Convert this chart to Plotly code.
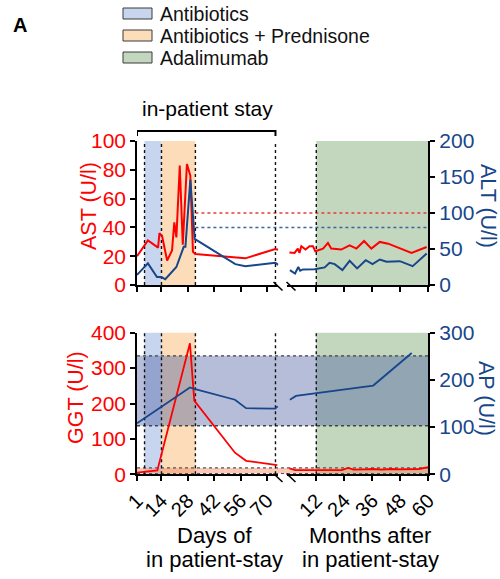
import plotly.graph_objects as go

# ---------------- data ----------------
# Top panel: AST (left axis, U/l) and ALT (right axis, U/l)
ast_days = [1, 6.8, 12.2, 12.9, 14.3, 17, 19.6, 20.8, 21.9, 23.7, 25.3, 27.5, 29.3, 30.7, 32, 58.5, 74.4, 76]
ast_days_vals = [20, 31, 26, 36, 34, 17, 24, 43.5, 33, 83, 28, 84, 76, 23, 21.5, 18.5, 25, 24.5]
ast_months = [0.5, 2.7, 4.1, 4.8, 5.6, 7.4, 9.1, 10.6, 11.6, 14.9, 17, 18.4, 22.7, 26.3, 29.2, 32.5, 35.6, 39.2, 42.8, 47.8, 52.8, 59.3]
ast_months_vals = [22.5, 22.3, 25.3, 22.3, 26.9, 24.6, 26.9, 26.9, 23.4, 25.3, 29.2, 25.3, 24.6, 27.6, 25.3, 30.6, 25.3, 29.9, 28.7, 25.7, 22.3, 26.4]

alt_days = [1, 6.8, 11.6, 13.9, 16, 21.9, 25.8, 26.7, 29.3, 31.6, 53.2, 58.5, 74.4, 76]
alt_days_vals = [14, 30, 11, 11, 8, 25, 53, 53, 146, 64, 29, 26, 31, 28]
alt_months = [0.7, 2.9, 4.3, 5.1, 6.3, 11.3, 15.6, 17.7, 19.9, 23.2, 26.3, 29.5, 33.2, 36.1, 39.2, 42.1, 47.8, 53.3, 59.3]
alt_months_vals = [20.7, 16, 25, 19.8, 21.6, 22, 24.4, 30.8, 29, 20.7, 33.6, 23, 34.5, 29, 35.4, 32.2, 33.1, 26.2, 43.7]

# Bottom panel: GGT (left axis, U/l) and AP (right axis, U/l)
ggt_days = [1, 11.8, 29.1, 31.4, 53, 58.9, 75.5]
ggt_days_vals = [5, 11, 370, 208, 61, 38, 26]
ggt_months = [0.5, 3, 8, 12, 18, 23, 25.6, 28, 33, 36, 40, 44, 48, 52, 56, 60]
ggt_months_vals = [17, 12, 12, 12, 11, 12, 18, 13, 14, 15, 13, 15, 14, 15, 15, 20]

ap_days = [1, 29.1, 31.4, 53, 58.9, 74.3, 75.7]
ap_days_vals = [108, 184, 181, 158, 140, 139, 144]
ap_months = [0.7, 3.3, 36.4, 52.9]
ap_months_vals = [158, 166, 188, 257]

# treatment periods / reference ranges
antibiotics_days = [5, 14]
prednisone_days = [14, 32]
adalimumab_months = [12, 60]
stay_end_day = 74.5
ast_uln = 50
alt_uln = 80
ap_normal = [103, 251]
ggt_normal = [2, 18]
ref_start_day = 32

day_ticks = [1, 14, 28, 42, 56, 70]
month_ticks = [12, 24, 36, 48, 60]
legend_labels = ["Antibiotics", "Antibiotics + Prednisone", "Adalimumab"]

# ---------------- style ----------------
W, H = 500, 579
OFF = 0  # page body margin removed via post_script
RED = "#ff0000"
BLUE = "#17468a"
C_ANTI = "#c8d5ee"
C_PRED = "#fcdcb9"
C_ADA = "#c3d7bf"
FONT = "Liberation Sans, Arial, sans-serif"

def fx(p):
    return (p - OFF) / W

def fy(p):
    return 1 - (p - OFF) / H

DAY_RANGE = [1, 76]
MON_RANGE = [-0.5, 60]
X_DAYS = [fx(137), fx(278.3)]
X_MON = [fx(287.1), fx(428.3)]
Y_TOP = [fy(285), fy(141)]
Y_BOT = [fy(474.3), fy(332.7)]

def day_to_paper(d):
    return X_DAYS[0] + (d - DAY_RANGE[0]) / (DAY_RANGE[1] - DAY_RANGE[0]) * (X_DAYS[1] - X_DAYS[0])

fig = go.Figure()

def line(x, y, xa, ya, color, width=2):
    fig.add_trace(go.Scatter(x=x, y=y, xaxis=xa, yaxis=ya, mode="lines",
                             line=dict(color=color, width=width), showlegend=False,
                             hoverinfo="skip"))

# top panel
line(ast_days, ast_days_vals, "x", "y", RED)
line(alt_days, alt_days_vals, "x", "y2", BLUE)
line(ast_months, ast_months_vals, "x2", "y", RED)
line(alt_months, alt_months_vals, "x2", "y2", BLUE)
# bottom panel
line(ggt_days, ggt_days_vals, "x3", "y3", RED, 1.8)
line(ap_days, ap_days_vals, "x3", "y4", BLUE, 1.8)
line(ggt_months, ggt_months_vals, "x4", "y3", RED, 1.8)
line(ap_months, ap_months_vals, "x4", "y4", BLUE, 1.8)

shapes = []
dot = dict(color="#111111", width=1.4, dash="dot")

for xd, xm, yd in [("x", "x2", "y domain"), ("x3", "x4", "y3 domain")]:
    shapes.append(dict(type="rect", xref=xd, yref=yd, x0=antibiotics_days[0], x1=antibiotics_days[1],
                       y0=0, y1=1, fillcolor=C_ANTI, line=dict(width=0), layer="below"))
    shapes.append(dict(type="rect", xref=xd, yref=yd, x0=prednisone_days[0], x1=prednisone_days[1],
                       y0=0, y1=1, fillcolor=C_PRED, line=dict(width=0), layer="below"))
    shapes.append(dict(type="rect", xref=xm, yref=yd, x0=adalimumab_months[0], x1=adalimumab_months[1],
                       y0=0, y1=1, fillcolor=C_ADA, line=dict(width=0), layer="below"))

# bottom bands
xr0, xr1 = X_DAYS[0], X_MON[1]
shapes.append(dict(type="rect", xref="paper", yref="y4", x0=xr0, x1=xr1, y0=ap_normal[0], y1=ap_normal[1],
                   fillcolor="rgba(72,90,160,0.40)", line=dict(width=0), layer="below"))
shapes.append(dict(type="rect", xref="paper", yref="y3", x0=xr0, x1=xr1, y0=ggt_normal[0], y1=ggt_normal[1],
                   fillcolor="rgba(245,135,95,0.45)", line=dict(width=0), layer="below"))
for v in ap_normal:
    shapes.append(dict(type="line", xref="paper", yref="y4", x0=xr0, x1=xr1, y0=v, y1=v,
                       line=dict(color="#444444", width=1.4, dash="dot"), layer="below"))
for v in ggt_normal:
    shapes.append(dict(type="line", xref="paper", yref="y3", x0=xr0, x1=xr1, y0=v, y1=v,
                       line=dict(color="#555555", width=1.3, dash="dot"), layer="below"))

# top reference lines
xs = day_to_paper(ref_start_day)
shapes.append(dict(type="line", xref="paper", yref="y", x0=xs, x1=xr1, y0=ast_uln, y1=ast_uln,
                   line=dict(color="#e83a3a", width=1.5, dash="dot"), layer="below"))
shapes.append(dict(type="line", xref="paper", yref="y2", x0=xs, x1=xr1, y0=alt_uln, y1=alt_uln,
                   line=dict(color="#3d64a0", width=1.5, dash="dot"), layer="below"))

# vertical dotted separators
for xd, xm, yd in [("x", "x2", "y domain"), ("x3", "x4", "y3 domain")]:
    for d in [antibiotics_days[0], antibiotics_days[1], prednisone_days[1], stay_end_day]:
        shapes.append(dict(type="line", xref=xd, yref=yd, x0=d, x1=d, y0=0, y1=1, line=dot, layer="below"))
    shapes.append(dict(type="line", xref=xm, yref=yd, x0=adalimumab_months[0], x1=adalimumab_months[0],
                       y0=0, y1=1, line=dot, layer="below"))

# in-patient stay bracket
yb0, yb1 = fy(136), fy(131)
shapes.append(dict(type="path", xref="x", yref="paper",
                   path=f"M {DAY_RANGE[0]},{yb0} L {DAY_RANGE[0]},{yb1} L {stay_end_day},{yb1} L {stay_end_day},{yb0}",
                   line=dict(color="black", width=2)))

# axis break marks
for ytop in [282, 473.5]:
    for x0 in [273.5, 286.5]:
        shapes.append(dict(type="line", xref="paper", yref="paper", x0=fx(x0), x1=fx(x0 + 9),
                           y0=fy(ytop), y1=fy(ytop + 8.5), line=dict(color="black", width=1.6)))

# legend boxes
leg_colors = [C_ANTI, C_PRED, C_ADA]
annotations = []
for i, (lab, col) in enumerate(zip(legend_labels, leg_colors)):
    yc = 13.5 + 22 * i
    shapes.append(dict(type="rect", xref="paper", yref="paper", x0=fx(123), x1=fx(152),
                       y0=fy(yc + 5.5), y1=fy(yc - 5.5), fillcolor=col,
                       line=dict(color="#3a3a3a", width=1)))
    annotations.append(dict(x=fx(158), y=fy(yc + 0.5), xref="paper", yref="paper", text=lab,
                            showarrow=False, xanchor="left", yanchor="middle",
                            font=dict(family=FONT, size=19.5, color="#111111")))

def ann(x, y, text, size, color="black", angle=0):
    return dict(x=fx(x), y=fy(y), xref="paper", yref="paper", text=text, showarrow=False,
                xanchor="center", yanchor="middle", textangle=angle,
                font=dict(family=FONT, size=size, color=color))

annotations += [
    ann(20, 25, "<b>A</b>", 20),
    ann(207, 108, "in-patient stay", 21),
    ann(89, 206, "AST (U/l)", 21.5, RED, -90),
    ann(488, 206, "ALT (U/l)", 21.5, BLUE, 90),
    ann(76, 398, "GGT (U/l)", 21.5, RED, -90),
    ann(486, 398, "AP (U/l)", 21.5, BLUE, 90),
    ann(214, 535, "Days of", 22),
    ann(214, 559, "in patient-stay", 22),
    ann(370, 535, "Months after", 22),
    ann(370, 559, "in patient-stay", 22),
]

axis_base = dict(showgrid=False, zeroline=False, showline=True, linecolor="black", linewidth=1.6,
                 ticks="outside", ticklen=5, tickwidth=1.6, tickcolor="black", fixedrange=True,
                 automargin=False)

def xax(domain, rng, ticks, anchor, labels):
    d = dict(axis_base, domain=domain, range=rng, tickvals=ticks, anchor=anchor,
             showticklabels=labels, tickangle=-45,
             tickfont=dict(family=FONT, size=20, color="black"))
    return d

def yax(domain, rng, dtick, anchor, side, color):
    return dict(axis_base, domain=domain, range=rng, dtick=dtick, anchor=anchor, side=side,
                tickfont=dict(family=FONT, size=21, color=color))

fig.update_layout(
    template="none",
    width=W, height=H, margin=dict(l=0, r=0, t=0, b=0, pad=0), autosize=False,
    paper_bgcolor="white", plot_bgcolor="rgba(0,0,0,0)", showlegend=False,
    font=dict(family=FONT),
    xaxis=xax(X_DAYS, DAY_RANGE, day_ticks, "y", False),
    xaxis2=xax(X_MON, MON_RANGE, month_ticks, "y2", False),
    xaxis3=xax(X_DAYS, DAY_RANGE, day_ticks, "y3", True),
    xaxis4=xax(X_MON, MON_RANGE, month_ticks, "y4", True),
    yaxis=yax(Y_TOP, [0, 100], 20, "x", "left", RED),
    yaxis2=yax(Y_TOP, [0, 200], 50, "x2", "right", BLUE),
    yaxis3=yax(Y_BOT, [0, 400], 100, "x3", "left", RED),
    yaxis4=yax(Y_BOT, [0, 300], 100, "x4", "right", BLUE),
    shapes=shapes, annotations=annotations,
)

fig.write_html("out.html", config={"displayModeBar": False},
               post_script="document.body.style.margin='0';document.body.style.overflow='hidden';")
